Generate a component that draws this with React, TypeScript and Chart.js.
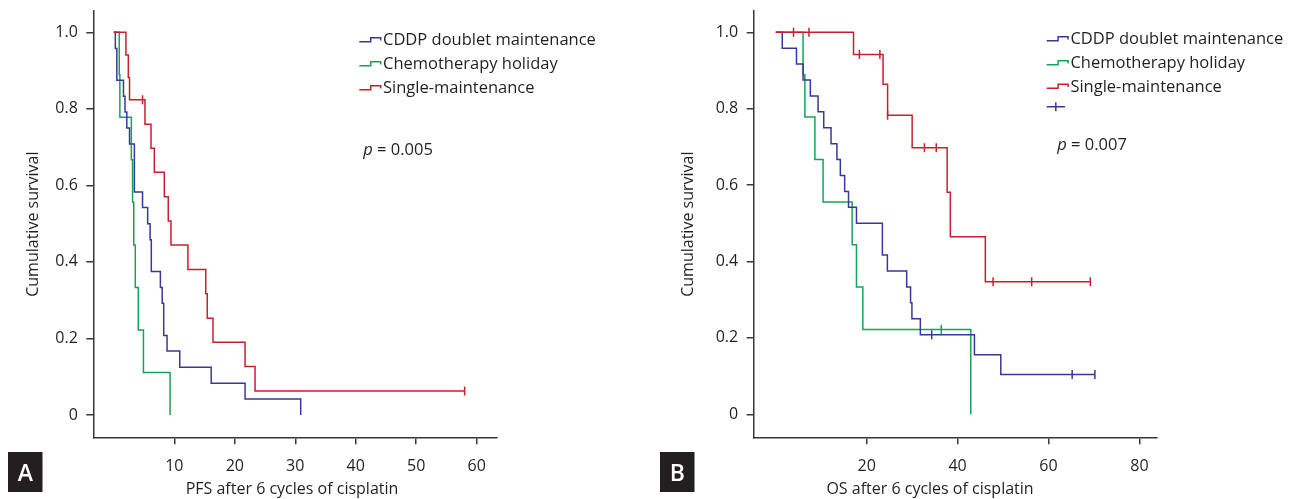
import React, { useEffect, useRef } from "react";
import { Chart, registerables } from "chart.js";
Chart.register(...registerables);

// ---------- Panel A: PFS after 6 cycles of cisplatin ----------
const pfsDoubletTime = [0, 0.25, 0.5, 1.6, 1.85, 2.15, 2.6, 3.4, 4.75, 5.6, 6.0, 6.2, 7.7, 8.0, 8.25, 8.8, 10.9, 16.1, 21.7, 30.9];
const pfsDoubletSurv = [1, 0.958, 0.875, 0.833, 0.792, 0.75, 0.708, 0.583, 0.542, 0.5, 0.458, 0.375, 0.333, 0.292, 0.208, 0.167, 0.125, 0.083, 0.042, 0];
const pfsDoubletCensor: number[] = [];

const pfsHolidayTime = [0, 0.9, 1.0, 2.9, 3.1, 3.3, 3.55, 4.05, 4.9, 9.3];
const pfsHolidaySurv = [1, 0.889, 0.778, 0.667, 0.556, 0.444, 0.333, 0.222, 0.111, 0];
const pfsHolidayCensor: number[] = [];

const pfsSingleTime = [0, 2.0, 2.4, 2.6, 5.15, 6.15, 6.7, 8.35, 9.0, 9.45, 12.25, 15.2, 15.45, 16.4, 21.7, 23.35];
const pfsSingleSurv = [1, 0.941, 0.882, 0.824, 0.76, 0.697, 0.634, 0.57, 0.507, 0.444, 0.38, 0.317, 0.253, 0.19, 0.127, 0.063];
const pfsSingleCensor = [4.75, 58];

const pfsXTicks = [10, 20, 30, 40, 50, 60];

// ---------- Panel B: OS after 6 cycles of cisplatin ----------
const osDoubletTime = [0, 1.42, 4.55, 6.0, 7.6, 9.3, 10.55, 12.15, 13.45, 14.2, 15.15, 16.0, 17.75, 23.45, 24.55, 28.8, 29.65, 29.95, 31.8, 43.7, 49.5];
const osDoubletSurv = [1, 0.958, 0.917, 0.875, 0.833, 0.792, 0.75, 0.708, 0.667, 0.625, 0.583, 0.542, 0.5, 0.417, 0.375, 0.333, 0.292, 0.25, 0.208, 0.156, 0.104];
const osDoubletCensor = [34.3, 65.2, 70.2];

const osHolidayTime = [0, 6.0, 6.4, 8.6, 10.4, 16.8, 17.75, 19.15, 42.9];
const osHolidaySurv = [1, 0.889, 0.778, 0.667, 0.556, 0.444, 0.333, 0.222, 0];
const osHolidayCensor = [36.4];

const osSingleTime = [0, 17.1, 23.6, 24.6, 30.0, 37.7, 38.4, 46.1];
const osSingleSurv = [1, 0.942, 0.864, 0.783, 0.698, 0.581, 0.465, 0.347];
const osSingleCensor = [3.9, 7.3, 18.4, 22.9, 24.6, 32.7, 35.3, 47.8, 56.3, 69.2];

const osXTicks = [20, 40, 60, 80];

const yTicks = [0, 0.2, 0.4, 0.6, 0.8, 1.0];

const seriesLabels = ["CDDP doublet maintenance", "Chemotherapy holiday", "Single-maintenance"];

// ---------- styling ----------
const BLUE = "#37399a";
const GREEN = "#16a257";
const RED = "#c6202e";
const AXIS = "#383838";
const TEXT = "#231f20";
const FONT = "'Open Sans', 'Noto Sans', sans-serif";

Chart.defaults.font.family = FONT;

type Series = { time: number[]; surv: number[]; censor: number[]; color: string; label: string };

function survAt(time: number[], surv: number[], t: number) {
  let v = surv[0];
  for (let i = 0; i < time.length; i++) if (time[i] <= t + 1e-9) v = surv[i];
  return v;
}

function buildDatasets(series: Series[]) {
  const lines = series.map((s) => {
    const pts = s.time.map((t, i) => ({ x: t, y: s.surv[i] }));
    const lastT = s.time[s.time.length - 1];
    const maxC = s.censor.length ? Math.max(...s.censor) : -Infinity;
    if (maxC > lastT) pts.push({ x: maxC, y: s.surv[s.surv.length - 1] });
    return {
      type: "line",
      label: s.label,
      data: pts,
      borderColor: s.color,
      borderWidth: 1.5,
      stepped: true,
      pointRadius: 0,
      fill: false,
      tension: 0,
    };
  });
  const marks = series
    .filter((s) => s.censor.length)
    .map((s) => ({
      type: "line",
      label: s.label + " (censored)",
      data: s.censor.map((t) => ({ x: t, y: survAt(s.time, s.surv, t) })),
      showLine: false,
      pointStyle: "line",
      pointRotation: 90,
      pointRadius: 4.5,
      pointBorderWidth: 1.5,
      pointBorderColor: s.color,
      borderColor: s.color,
    }));
  return [...lines, ...marks];
}

type LegendRow = { label: string; color: string; kind: "step" | "plus"; baseline: number };

type PanelCfg = {
  series: Series[];
  xMin: number;
  xMax: number;
  yMin: number;
  yMax: number;
  xTicks: number[];
  padding: { left: number; right: number; top: number; bottom: number };
  yAxisWidth: number;
  xAxisHeight: number;
  yTitlePad: number;
  legendX: number;
  legend: LegendRow[];
  pText: string;
  pX: number;
  pBaseline: number;
  xTitle: string;
  xTitleX: number;
  xTitleBaseline: number;
  panelLetter: string;
  boxX: number;
};

function decor(cfg: PanelCfg) {
  return {
    id: "decor" + cfg.panelLetter,
    afterDraw(chart: any) {
      const ctx: CanvasRenderingContext2D = chart.ctx;
      ctx.save();
      // legend
      ctx.lineWidth = 1.5;
      ctx.textBaseline = "alphabetic";
      ctx.textAlign = "left";
      for (const row of cfg.legend) {
        const x0 = cfg.legendX;
        const b = row.baseline;
        ctx.strokeStyle = row.color;
        ctx.beginPath();
        if (row.kind === "step") {
          ctx.moveTo(x0, b - 3.3);
          ctx.lineTo(x0 + 11.4, b - 3.3);
          ctx.lineTo(x0 + 11.4, b - 7.3);
          ctx.lineTo(x0 + 21.4, b - 7.3);
          ctx.lineTo(x0 + 21.4, b - 4.6);
        } else {
          ctx.moveTo(x0, b - 6);
          ctx.lineTo(x0 + 18.3, b - 6);
          ctx.moveTo(x0 + 9.1, b - 10.5);
          ctx.lineTo(x0 + 9.1, b - 1.5);
        }
        ctx.stroke();
        if (row.label) {
          ctx.fillStyle = TEXT;
          ctx.font = `16.5px ${FONT}`;
          ctx.fillText(row.label, x0 + 23.7, b);
        }
      }
      // p value
      ctx.fillStyle = TEXT;
      ctx.font = `italic 16.5px ${FONT}`;
      ctx.fillText("p", cfg.pX, cfg.pBaseline);
      const pw = ctx.measureText("p").width;
      ctx.font = `16.5px ${FONT}`;
      ctx.fillText(" = " + cfg.pText, cfg.pX + pw, cfg.pBaseline);
      // x title
      ctx.font = `16px ${FONT}`;
      ctx.textAlign = "center";
      ctx.fillText(cfg.xTitle, cfg.xTitleX, cfg.xTitleBaseline);
      // panel letter
      ctx.fillStyle = "#231f20";
      ctx.fillRect(cfg.boxX, 452, 34.5, 40);
      ctx.fillStyle = "#ffffff";
      ctx.font = `600 23px ${FONT}`;
      ctx.textAlign = "center";
      ctx.textBaseline = "alphabetic";
      ctx.fillText(cfg.panelLetter, cfg.boxX + 17.25, 481);
      ctx.restore();
    },
  };
}

function makeChart(canvas: HTMLCanvasElement, cfg: PanelCfg) {
  return new Chart(canvas, {
    type: "line",
    data: { datasets: buildDatasets(cfg.series) as any },
    options: {
      animation: false,
      responsive: false,
      devicePixelRatio: 1,
      events: [],
      layout: { padding: cfg.padding },
      plugins: { legend: { display: false }, tooltip: { enabled: false } },
      scales: {
        x: {
          type: "linear",
          min: cfg.xMin,
          max: cfg.xMax,
          afterBuildTicks: (s: any) => {
            s.ticks = cfg.xTicks.map((v) => ({ value: v }));
          },
          afterFit: (s: any) => {
            s.height = cfg.xAxisHeight;
            s.paddingLeft = 0;
            s.paddingRight = 0;
          },
          grid: { display: true, drawOnChartArea: false, drawTicks: true, tickLength: 7, color: AXIS, lineWidth: 1.5 },
          border: { display: true, color: AXIS, width: 1.5 },
          ticks: {
            autoSkip: false,
            maxRotation: 0,
            padding: 12.5,
            color: TEXT,
            font: { size: 16 },
            callback: (v: any) => String(v),
          },
        },
        y: {
          type: "linear",
          min: cfg.yMin,
          max: cfg.yMax,
          afterBuildTicks: (s: any) => {
            s.ticks = yTicks.map((v) => ({ value: v }));
          },
          afterFit: (s: any) => {
            s.width = cfg.yAxisWidth;
            s.paddingTop = 0;
            s.paddingBottom = 0;
          },
          grid: { display: true, drawOnChartArea: false, drawTicks: true, tickLength: 7, color: AXIS, lineWidth: 1.5 },
          border: { display: true, color: AXIS, width: 1.5 },
          ticks: {
            autoSkip: false,
            padding: 8.5,
            color: TEXT,
            font: { size: 16, lineHeight: 1 },
            callback: (v: any) => (Number(v) === 0 ? "0" : Number(v).toFixed(1)),
          },
          title: {
            display: true,
            text: "Cumulative survival",
            color: TEXT,
            font: { size: 16 },
            padding: { top: cfg.yTitlePad, bottom: 0 },
          },
        },
      },
    } as any,
    plugins: [decor(cfg) as any],
  });
}

const panelA: PanelCfg = {
  series: [
    { time: pfsSingleTime, surv: pfsSingleSurv, censor: pfsSingleCensor, color: RED, label: seriesLabels[2] },
    { time: pfsDoubletTime, surv: pfsDoubletSurv, censor: pfsDoubletCensor, color: BLUE, label: seriesLabels[0] },
    { time: pfsHolidayTime, surv: pfsHolidaySurv, censor: pfsHolidayCensor, color: GREEN, label: seriesLabels[1] },
  ],
  xMin: -3.39,
  xMax: 63.3,
  yMin: -0.0583,
  yMax: 1.0557,
  xTicks: pfsXTicks,
  padding: { left: 0, right: 149.3, top: 11, bottom: 0 },
  yAxisWidth: 93.3,
  xAxisHeight: 61.7,
  yTitlePad: 23.4,
  legendX: 359.3,
  legend: [
    { label: seriesLabels[0], color: BLUE, kind: "step", baseline: 45 },
    { label: seriesLabels[1], color: GREEN, kind: "step", baseline: 69 },
    { label: seriesLabels[2], color: RED, kind: "step", baseline: 93 },
  ],
  pText: "0.005",
  pX: 363.3,
  pBaseline: 155,
  xTitle: "PFS after 6 cycles of cisplatin",
  xTitleX: 292,
  xTitleBaseline: 494,
  panelLetter: "A",
  boxX: 8,
};

const panelB: PanelCfg = {
  series: [
    { time: osSingleTime, surv: osSingleSurv, censor: osSingleCensor, color: RED, label: seriesLabels[2] },
    { time: osDoubletTime, surv: osDoubletSurv, censor: osDoubletCensor, color: BLUE, label: seriesLabels[0] },
    { time: osHolidayTime, surv: osHolidaySurv, censor: osHolidayCensor, color: GREEN, label: seriesLabels[1] },
  ],
  xMin: -4.86,
  xMax: 83.8,
  yMin: -0.0602,
  yMax: 1.0558,
  xTicks: osXTicks,
  padding: { left: 0, right: 135.3, top: 11, bottom: 0 },
  yAxisWidth: 107.7,
  xAxisHeight: 61.7,
  yTitlePad: 32.4,
  legendX: 400.7,
  legend: [
    { label: seriesLabels[0], color: BLUE, kind: "step", baseline: 44 },
    { label: seriesLabels[1], color: GREEN, kind: "step", baseline: 68 },
    { label: seriesLabels[2], color: RED, kind: "step", baseline: 91.5 },
    { label: "", color: BLUE, kind: "plus", baseline: 112.7 },
  ],
  pText: "0.007",
  pX: 411.3,
  pBaseline: 150,
  xTitle: "OS after 6 cycles of cisplatin",
  xTitleX: 284,
  xTitleBaseline: 494,
  panelLetter: "B",
  boxX: 14,
};

export default function App() {
  const refA = useRef<HTMLCanvasElement>(null);
  const refB = useRef<HTMLCanvasElement>(null);
  useEffect(() => {
    document.body.style.margin = "0";
    const a = makeChart(refA.current!, panelA);
    const b = makeChart(refB.current!, panelB);
    return () => {
      a.destroy();
      b.destroy();
    };
  }, []);
  return (
    <div style={{ position: "relative", width: 1292, height: 499, background: "#ffffff" }}>
      <canvas ref={refA} width={646} height={499} style={{ position: "absolute", left: 0, top: 0, width: 646, height: 499 }} />
      <canvas ref={refB} width={646} height={499} style={{ position: "absolute", left: 646, top: 0, width: 646, height: 499 }} />
    </div>
  );
}
